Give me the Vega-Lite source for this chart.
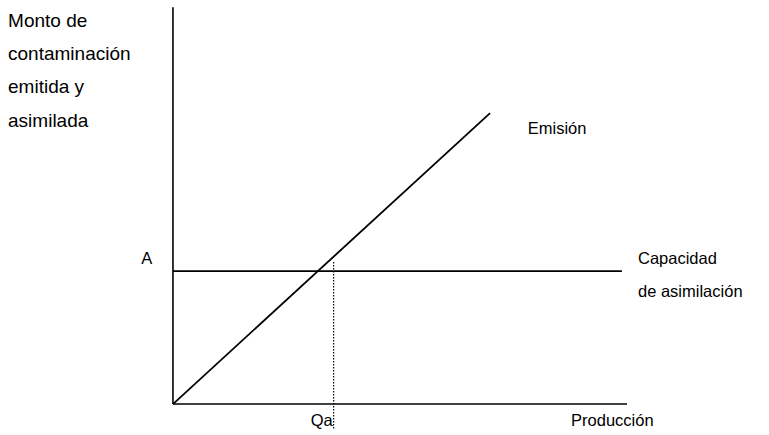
{
  "$schema": "https://vega.github.io/schema/vega-lite/v6.json",
  "width": 769,
  "height": 435,
  "padding": 0,
  "autosize": "none",
  "background": "white",
  "config": {"view": {"stroke": null}},
  "layer": [
    {
      "data": {"values": [
        {"name": "yaxis", "x": 0, "x2": 0, "y": 0, "y2": 10},
        {"name": "xaxis", "x": 0, "x2": 10.71, "y": 0, "y2": 0},
        {"name": "capacidad", "x": 0, "x2": 10.59, "y": 3.35, "y2": 3.35}
      ]},
      "mark": {"type": "rule", "color": "black", "strokeWidth": 1.6},
      "encoding": {
        "x": {"field": "x", "type": "quantitative", "scale": {"domain": [-4.08, 14.06], "nice": false, "zero": false}, "axis": null},
        "x2": {"field": "x2"},
        "y": {"field": "y", "type": "quantitative", "scale": {"domain": [-0.78, 10.18], "nice": false, "zero": false}, "axis": null},
        "y2": {"field": "y2"}
      }
    },
    {
      "data": {"values": [
        {"x": 3.79, "x2": 3.79, "y": 3.58, "y2": -0.65}
      ]},
      "mark": {"type": "rule", "color": "black", "strokeWidth": 1.2, "strokeDash": [1.5, 1.5]},
      "encoding": {
        "x": {"field": "x", "type": "quantitative", "scale": {"domain": [-4.08, 14.06], "nice": false, "zero": false}, "axis": null},
        "x2": {"field": "x2"},
        "y": {"field": "y", "type": "quantitative", "scale": {"domain": [-0.78, 10.18], "nice": false, "zero": false}, "axis": null},
        "y2": {"field": "y2"}
      }
    },
    {
      "data": {"values": [
        {"produccion": 0, "emision": 0},
        {"produccion": 7.48, "emision": 7.33}
      ]},
      "mark": {"type": "line", "color": "black", "strokeWidth": 1.8},
      "encoding": {
        "x": {"field": "produccion", "type": "quantitative", "scale": {"domain": [-4.08, 14.06], "nice": false, "zero": false}, "axis": null},
        "y": {"field": "emision", "type": "quantitative", "scale": {"domain": [-0.78, 10.18], "nice": false, "zero": false}, "axis": null}
      }
    },
    {
      "data": {"values": [
        {"label": "Monto de", "x": -3.89, "y": 9.5},
        {"label": "contaminación", "x": -3.89, "y": 8.67},
        {"label": "emitida y", "x": -3.89, "y": 7.84},
        {"label": "asimilada", "x": -3.89, "y": 6.99}
      ]},
      "mark": {"type": "text", "align": "left", "baseline": "alphabetic", "font": "Liberation Sans", "fontSize": 19, "color": "black"},
      "encoding": {
        "x": {"field": "x", "type": "quantitative", "scale": {"domain": [-4.08, 14.06], "nice": false, "zero": false}, "axis": null},
        "y": {"field": "y", "type": "quantitative", "scale": {"domain": [-0.78, 10.18], "nice": false, "zero": false}, "axis": null},
        "text": {"field": "label", "type": "nominal"}
      }
    },
    {
      "data": {"values": [
        {"label": "A", "x": -0.75, "y": 3.53},
        {"label": "Capacidad", "x": 10.97, "y": 3.53},
        {"label": "de asimilación", "x": 10.97, "y": 2.70},
        {"label": "Emisión", "x": 8.37, "y": 6.80},
        {"label": "Qa", "x": 3.25, "y": -0.55},
        {"label": "Producción", "x": 9.39, "y": -0.55}
      ]},
      "mark": {"type": "text", "align": "left", "baseline": "alphabetic", "font": "Liberation Sans", "fontSize": 16.5, "color": "black"},
      "encoding": {
        "x": {"field": "x", "type": "quantitative", "scale": {"domain": [-4.08, 14.06], "nice": false, "zero": false}, "axis": null},
        "y": {"field": "y", "type": "quantitative", "scale": {"domain": [-0.78, 10.18], "nice": false, "zero": false}, "axis": null},
        "text": {"field": "label", "type": "nominal"}
      }
    }
  ]
}
